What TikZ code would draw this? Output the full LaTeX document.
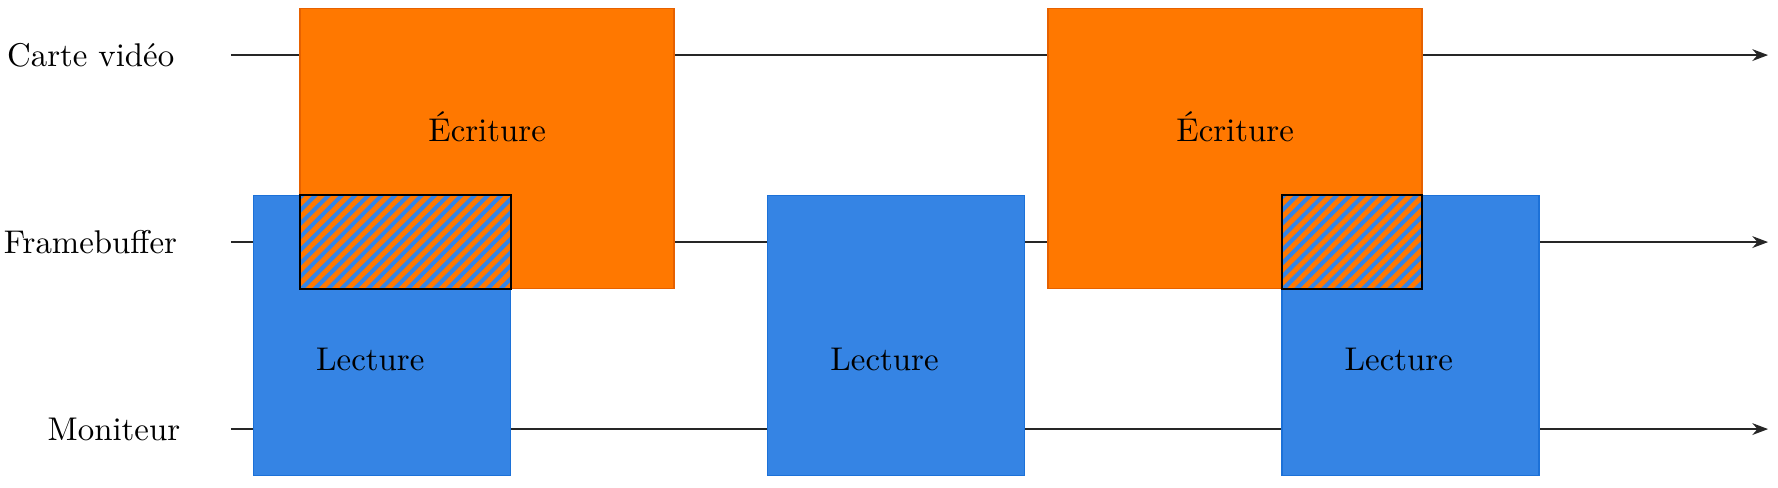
\documentclass[tikz,border=0pt]{standalone}
\usetikzlibrary{arrows.meta}
\definecolor{orfill}{HTML}{FF7800}
\definecolor{ordraw}{HTML}{E66100}
\definecolor{blfill}{HTML}{3584E4}
\definecolor{bldraw}{HTML}{1C71D8}
\tikzset{
  timeline/.style={draw=black!85, line width=0.4pt, -{Stealth}},
  writebox/.style={fill=orfill, draw=ordraw, line width=0.4pt},
  readbox/.style={fill=blfill, draw=bldraw, line width=0.4pt},
  stripe/.style={draw=orfill, line width=1.5pt},
  hatchframe/.style={draw=black, line width=0.6pt},
  rowlabel/.style={inner sep=0pt},
  boxlabel/.style={inner sep=0pt}
}
\begin{document}
\begin{tikzpicture}
\useasboundingbox (0,0) rectangle (19.016,5.209);
% rows
\def\ya{4.62}\def\yb{2.62}\def\yc{0.62}
\coordinate (s0) at (2.47,\ya); \coordinate (e0) at (18.91,\ya);
\coordinate (s1) at (2.47,\yb); \coordinate (e1) at (18.91,\yb);
\coordinate (s2) at (2.47,\yc); \coordinate (e2) at (18.91,\yc);
\node[rowlabel] (lab0) at (0.970,\ya) {Carte vidéo};
\node[rowlabel] (lab1) at (0.968,\yb) {Framebuffer};
\node[rowlabel] (lab2) at (1.219,\yc) {Moniteur};
\draw[timeline] (s0) -- (e0);
\draw[timeline] (s1) -- (e1);
\draw[timeline] (s2) -- (e2);
% write boxes
\foreach \x in {3.21,11.21}{
  \filldraw[writebox] (\x,5.12) rectangle ++(4,-3);
}
% read boxes
\foreach \x in {2.71,8.21,13.71}{
  \filldraw[readbox] (\x,3.12) rectangle ++(2.75,-3);
}
% hatched overlaps
\foreach \xl/\xr in {3.21/5.46,13.71/15.21}{
  \begin{scope}
    \clip (\xl,2.12) rectangle (\xr,3.12);
    \fill[blfill] (\xl,2.12) rectangle (\xr,3.12);
    \foreach \k in {0,...,32}{
      \draw[stripe] ({\xl-1.15+\k*0.142},2.02) -- ++(1.2,1.2);
    }
  \end{scope}
  \draw[hatchframe] (\xl,2.12) rectangle (\xr,3.12);
}
% labels in boxes
\node[boxlabel] (w1) at (5.21,3.856) {Écriture};
\node[boxlabel] (w2) at (13.21,3.856) {Écriture};
\node[boxlabel] (r1) at (3.96,1.369) {Lecture};
\node[boxlabel] (r2) at (9.46,1.369) {Lecture};
\node[boxlabel] (r3) at (14.96,1.369) {Lecture};
\end{tikzpicture}
\end{document}
